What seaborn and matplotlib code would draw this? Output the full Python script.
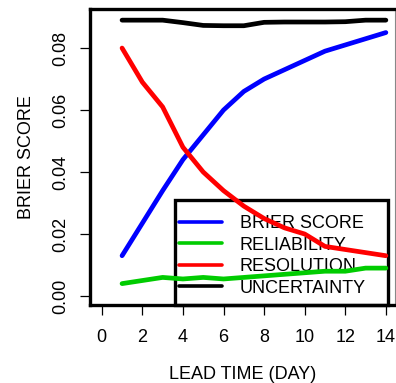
import matplotlib
matplotlib.use("Agg")
import matplotlib.pyplot as plt
from matplotlib.patches import Rectangle
import numpy as np
import pandas as pd
import seaborn as sns

# Brier score decomposition by forecast lead time
lead_days = [1, 2, 3, 4, 5, 6, 7, 8, 9, 10, 11, 12, 13, 14]
brier_score = [0.013, 0.0235, 0.034, 0.044, 0.052, 0.060, 0.066, 0.070, 0.073, 0.076, 0.079, 0.081, 0.083, 0.085]
reliability = [0.004, 0.005, 0.006, 0.0055, 0.006, 0.0055, 0.006, 0.0065, 0.007, 0.0075, 0.008, 0.008, 0.009, 0.009]
resolution = [0.080, 0.069, 0.061, 0.048, 0.040, 0.034, 0.029, 0.025, 0.022, 0.020, 0.016, 0.015, 0.014, 0.013]
uncertainty = [0.089, 0.089, 0.089, 0.0882, 0.0873, 0.0872, 0.0872, 0.0883, 0.0884, 0.0884, 0.0884, 0.0885, 0.0890, 0.0890]

series_names = ["BRIER SCORE", "RELIABILITY", "RESOLUTION", "UNCERTAINTY"]
series_colors = ["#0000ff", "#00cc00", "#ff0000", "#000000"]
x_ticks = [0, 2, 4, 6, 8, 10, 12, 14]
y_ticks = [0.00, 0.02, 0.04, 0.06, 0.08]
y_tick_labels = ["0.00", "0.02", "0.04", "0.06", "0.08"]

sns.set_theme(style="white")
plt.rcParams["font.family"] = ["Liberation Sans", "DejaVu Sans"]
plt.rcParams["text.color"] = "black"
plt.rcParams["axes.labelcolor"] = "black"

df = pd.DataFrame({
    "day": lead_days * 4,
    "value": brier_score + reliability + resolution + uncertainty,
    "component": sum([[n] * len(lead_days) for n in series_names], []),
})

fig = plt.figure(figsize=(3.96, 3.83), dpi=100)
ax = fig.add_axes([90 / 396, 1 - 305 / 383, 305 / 396, 296 / 383])

sns.lineplot(data=df, x="day", y="value", hue="component", hue_order=series_names,
             palette=dict(zip(series_names, series_colors)), linewidth=3.4,
             legend=False, ax=ax, zorder=3)

ax.set_xlim(-0.58, 14.45)
ax.set_ylim(-0.0029, 0.0926)
ax.set_xticks(x_ticks)
ax.set_xticklabels([str(t) for t in x_ticks], fontsize=13)
ax.set_yticks(y_ticks)
ax.set_yticklabels(y_tick_labels, fontsize=13, rotation=90, va="center")
ax.tick_params(axis="both", which="both", direction="out", length=7, width=0.9,
               color="black", labelcolor="black", left=True, bottom=True)
ax.tick_params(axis="x", pad=10)
ax.tick_params(axis="y", pad=8)
ax.set_xlabel("LEAD TIME (DAY)", fontsize=13, labelpad=15)
ax.set_ylabel("BRIER SCORE", fontsize=13, labelpad=12)
ax.grid(False)

for side in ["left", "bottom", "top"]:
    ax.spines[side].set_color("black")
    ax.spines[side].set_linewidth(2.4)
ax.spines["right"].set_color("#888888")
ax.spines["right"].set_linewidth(0.8)

# Legend frame drawn as a separate box so the curves pass over it
ax.add_patch(Rectangle((0.279, 0.0), 0.698, 0.355, transform=ax.transAxes,
                       fill=False, edgecolor="black", linewidth=2.4,
                       clip_on=False, zorder=2))
handles = [plt.Line2D([], [], color=c, linewidth=2.6) for c in series_colors]
leg = ax.legend(handles, series_names, loc="upper left",
                bbox_to_anchor=(0.292, 0.304), frameon=False, fontsize=13,
                handlelength=2.4, handletextpad=0.95, labelspacing=0.25,
                borderpad=0, borderaxespad=0)
for txt in leg.get_texts():
    txt.set_color("black")
leg.set_zorder(1)

fig.savefig("out.png", dpi=100)
